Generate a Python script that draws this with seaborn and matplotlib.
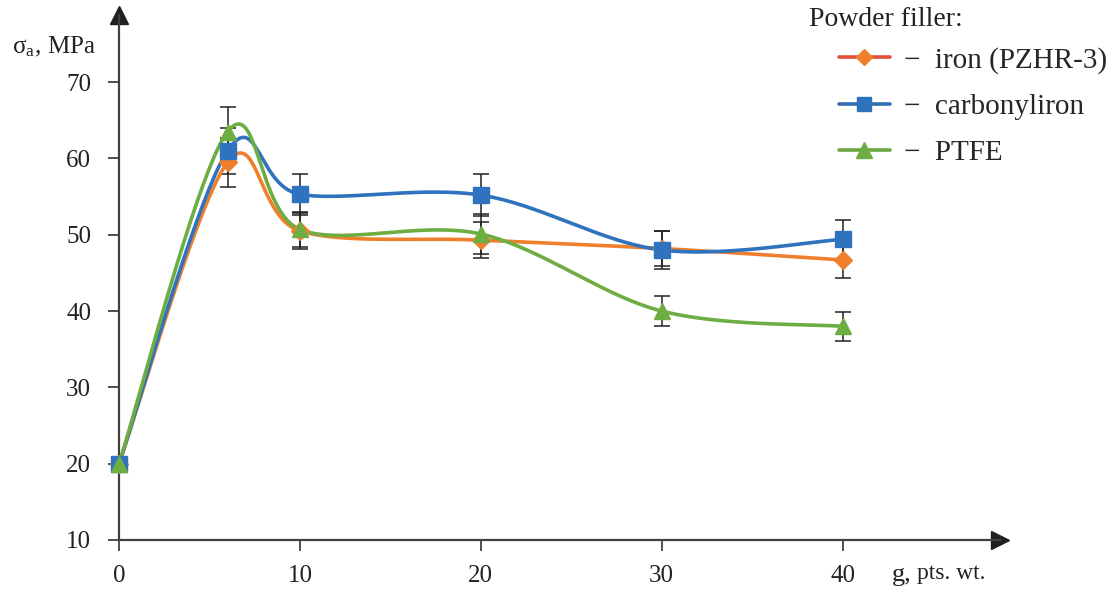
import numpy as np
import pandas as pd
import seaborn as sns
import matplotlib.pyplot as plt
from matplotlib.lines import Line2D

# data
g = [0, 6, 10, 20, 30, 40]
iron = [20, 59.5, 50.5, 49.3, 48.2, 46.7]
iron_err = [0, 3.2, 2.3, 2.4, 2.3, 2.4]
carbonyl = [20, 61, 55.3, 55.2, 48.0, 49.4]
carbonyl_err = [0, 3.0, 2.7, 2.7, 2.5, 2.6]
ptfe = [20, 63.5, 50.7, 50.1, 40.0, 38.0]
ptfe_err = [0, 3.3, 2.3, 2.6, 2.0, 1.9]

names = ["iron (PZHR-3)", "carbonyliron", "PTFE"]
colors = ["#F07F2C", "#2F72BD", "#6CAE42"]
markers = ["D", "s", "^"]
msizes = [9, 11, 12]

sns.set_theme(style="white")
plt.rcParams["font.family"] = ["Liberation Serif", "DejaVu Serif"]
plt.rcParams["mathtext.fontset"] = "stix"

XMAX, YMIN, YMAX = 48.7, 10, 78.8
SX, SY = 18.1, 7.63  # px per data unit, used for the smoothing only


def smooth(xs, ys, n=40):
    # excel-style smoothed line (bezier through the points, done in screen space)
    p = np.column_stack([np.array(xs) * SX, np.array(ys) * SY])
    out = []
    for i in range(len(p) - 1):
        p0 = p[max(i - 1, 0)]
        p1, p2 = p[i], p[i + 1]
        p3 = p[min(i + 2, len(p) - 1)]
        c1 = p1 + (p2 - p0) / 6
        c2 = p2 - (p3 - p1) / 6
        t = np.linspace(0, 1, n)[:, None]
        b = (1 - t) ** 3 * p1 + 3 * (1 - t) ** 2 * t * c1 + 3 * (1 - t) * t ** 2 * c2 + t ** 3 * p2
        out.append(b if i == 0 else b[1:])
    b = np.vstack(out)
    return b[:, 0] / SX, b[:, 1] / SY


fig = plt.figure(figsize=(11.18, 5.89), dpi=100)
ax = fig.add_axes([119 / 1118, 1 - 540 / 589, (1000 - 119) / 1118, (540 - 15) / 589])

series = [iron, carbonyl, ptfe]
errs = [iron_err, carbonyl_err, ptfe_err]
for k, (vals, err) in enumerate(zip(series, errs)):
    sx, sy = smooth(g, vals)
    sns.lineplot(x=sx, y=sy, sort=False, estimator=None, color=colors[k], lw=2.6, ax=ax, zorder=3 + k)
    ax.errorbar(g[1:], vals[1:], yerr=err[1:], fmt="none", ecolor="#222222", elinewidth=1.1,
                capsize=6, capthick=1.1, zorder=2)
    df = pd.DataFrame({"g": g, "v": vals})
    ax.plot(df["g"], df["v"], ls="none", marker=markers[k], ms=msizes[k], color=colors[k],
            zorder=6 + k, clip_on=False)

ax.set_xlim(0, XMAX)
ax.set_ylim(YMIN, YMAX)
ax.set_xticks([0, 10, 20, 30, 40])
ax.set_yticks([10, 20, 30, 40, 50, 60, 70])
ax.tick_params(axis="both", direction="out", length=8, width=1.3, color="#404040",
               labelsize=18, labelcolor="#222222", bottom=True, left=True)
ax.tick_params(axis="y", pad=12)
ax.tick_params(axis="x", pad=10)
sns.despine(ax=ax)
for s in ["left", "bottom"]:
    ax.spines[s].set_color("#404040")
    ax.spines[s].set_linewidth(1.6)
ax.plot(1, 0, marker=">", ms=13, color="#202020", transform=ax.transAxes, clip_on=False)
ax.plot(0, 1, marker="^", ms=13, color="#202020", transform=ax.transAxes, clip_on=False)
ax.set_xlabel("")
ax.set_ylabel("")

fig.text(12 / 1118, 1 - 47 / 589, r"σ$_\mathregular{a}$, MPa", fontsize=18, color="#222222", va="center")
fig.text(892 / 1118, 1 - 575 / 589, "g,", fontsize=19, color="#222222", va="center")
fig.text(917 / 1118, 1 - 574 / 589, "pts. wt.", fontsize=17, color="#222222", va="center")

fig.text(809 / 1118, 1 - 19 / 589, "Powder filler:", fontsize=20, color="#222222", va="center")
legend_line = ["#E2503A", "#2F6DB0", "#6CA844"]
handles = [Line2D([], [], color=legend_line[k], lw=2.6, marker=markers[k], ms=msizes[k] - 1,
                  markerfacecolor=colors[k], markeredgecolor=colors[k]) for k in range(3)]
fig.legend(handles, ["\u2212  " + n for n in names], loc="upper left",
           bbox_to_anchor=(824 / 1118, 1 - 32 / 589), frameon=False, fontsize=21,
           handlelength=1.75, handletextpad=0.5, labelspacing=0.68, borderpad=0)

fig.savefig("out.png", dpi=100)
